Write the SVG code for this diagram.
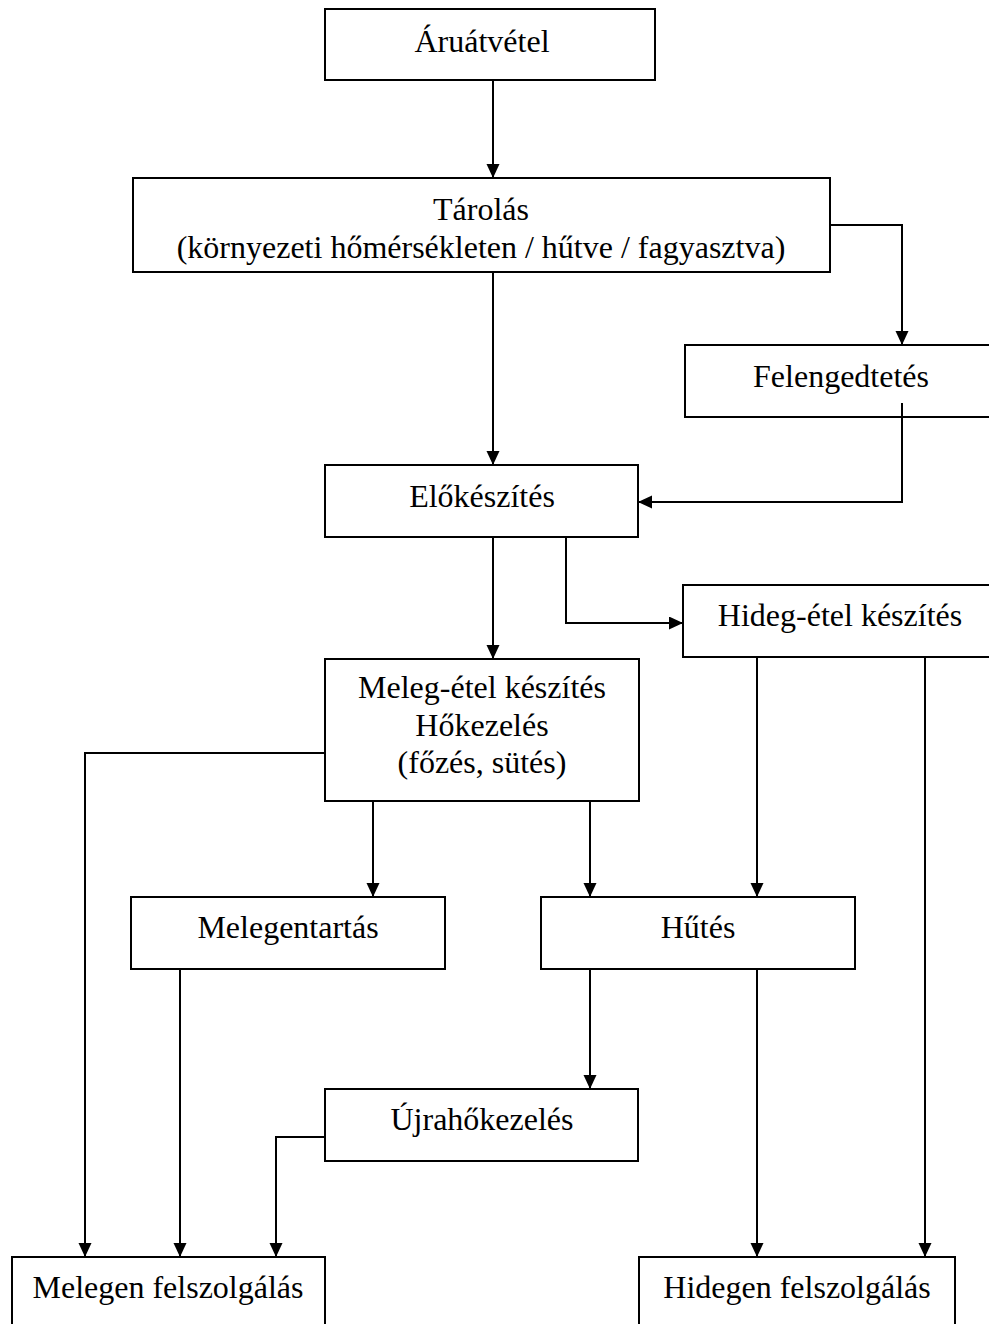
<svg xmlns="http://www.w3.org/2000/svg" width="989" height="1324" viewBox="0 0 989 1324">
<defs>
<marker id="ah" markerUnits="userSpaceOnUse" markerWidth="14" markerHeight="14" refX="14" refY="6.5" orient="auto">
<path d="M0,0 L14,6.5 L0,13 Z" fill="#000"/>
</marker>
<style>
.box{fill:#fff;stroke:#000;stroke-width:2}
.t{font-family:"Liberation Serif","Times New Roman",serif;font-size:32px;fill:#000;text-anchor:middle}
.c{fill:none;stroke:#000;stroke-width:2}
</style>
</defs>
<rect width="989" height="1324" fill="#fff"/>
<g id="n-aruatvetel"><rect class="box" x="325" y="9" width="330" height="71"/><text class="t" x="482" y="52">Áruátvétel</text></g>
<g id="n-tarolas"><rect class="box" x="133" y="178" width="697" height="94"/><text class="t" x="481" y="220">Tárolás</text><text class="t" x="481" y="258">(környezeti hőmérsékleten / hűtve / fagyasztva)</text></g>
<g id="n-felengedtetes"><rect class="box" x="685" y="345" width="314" height="72"/><text class="t" x="841" y="387">Felengedtetés</text></g>
<g id="n-elokeszites"><rect class="box" x="325" y="465" width="313" height="72"/><text class="t" x="482" y="507">Előkészítés</text></g>
<g id="n-hideg-etel"><rect class="box" x="683" y="585" width="316" height="72"/><text class="t" x="840" y="626">Hideg-étel készítés</text></g>
<g id="n-meleg-etel"><rect class="box" x="325" y="659" width="314" height="142"/><text class="t" x="482" y="698">Meleg-étel készítés</text><text class="t" x="482" y="736">Hőkezelés</text><text class="t" x="482" y="773">(főzés, sütés)</text></g>
<g id="n-melegentartas"><rect class="box" x="131" y="897" width="314" height="72"/><text class="t" x="288" y="938">Melegentartás</text></g>
<g id="n-hutes"><rect class="box" x="541" y="897" width="314" height="72"/><text class="t" x="698" y="938">Hűtés</text></g>
<g id="n-ujrahokezeles"><rect class="box" x="325" y="1089" width="313" height="72"/><text class="t" x="482" y="1130">Újrahőkezelés</text></g>
<g id="n-melegen"><rect class="box" x="12" y="1257" width="313" height="90"/><text class="t" x="168" y="1298">Melegen felszolgálás</text></g>
<g id="n-hidegen"><rect class="box" x="639" y="1257" width="316" height="90"/><text class="t" x="797" y="1298">Hidegen felszolgálás</text></g>
<g id="connectors">
<path class="c" marker-end="url(#ah)" d="M493,80 V178"/>
<path class="c" marker-end="url(#ah)" d="M493,272 V465"/>
<path class="c" marker-end="url(#ah)" d="M830,225 H902 V345"/>
<path class="c" marker-end="url(#ah)" d="M902,403 V502 H638"/>
<path class="c" marker-end="url(#ah)" d="M493,537 V659"/>
<path class="c" marker-end="url(#ah)" d="M566,537 V623 H683"/>
<path class="c" marker-end="url(#ah)" d="M325,753 H85 V1257"/>
<path class="c" marker-end="url(#ah)" d="M373,801 V897"/>
<path class="c" marker-end="url(#ah)" d="M590,801 V897"/>
<path class="c" marker-end="url(#ah)" d="M757,657 V897"/>
<path class="c" marker-end="url(#ah)" d="M925,657 V1257"/>
<path class="c" marker-end="url(#ah)" d="M180,969 V1257"/>
<path class="c" marker-end="url(#ah)" d="M590,969 V1089"/>
<path class="c" marker-end="url(#ah)" d="M757,969 V1257"/>
<path class="c" marker-end="url(#ah)" d="M325,1137 H276 V1257"/>
</g>
</svg>
